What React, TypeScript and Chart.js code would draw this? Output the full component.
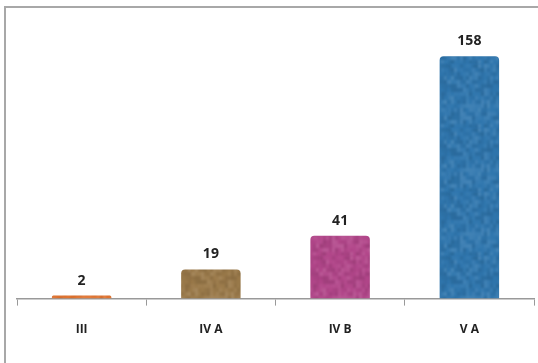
import React, { useEffect, useRef } from "react";
import { Chart, registerables } from "chart.js";

Chart.register(...registerables);

const categories = ["III", "IV A", "IV B", "V A"];
const values = [2, 19, 41, 158];
const barColors = ["#e0722e", "#9b7a4a", "#b2468a", "#2f76ae"];

// Small deterministic hash used to give the bars a hand-coloured, crayon-like grain.
function grain(x: number, y: number): number {
  const s = Math.sin(x * 12.9898 + y * 78.233) * 43758.5453;
  return s - Math.floor(s);
}

function makeTexture(ctx: CanvasRenderingContext2D, color: string): CanvasPattern | string {
  const size = 64;
  const raw = document.createElement("canvas");
  raw.width = size;
  raw.height = size;
  const r = raw.getContext("2d");
  if (!r) return color;
  r.fillStyle = color;
  r.fillRect(0, 0, size, size);
  for (let x = 0; x < size; x += 3) {
    for (let y = 0; y < size; y += 4) {
      const n = grain(x, y) - 0.5;
      r.fillStyle = n > 0 ? `rgba(255,255,255,${n * 0.22})` : `rgba(0,0,0,${-n * 0.22})`;
      r.fillRect(x, y, 3, 4);
    }
  }
  // soften the blocks into a mottled, pencil-like surface
  const off = document.createElement("canvas");
  off.width = size;
  off.height = size;
  const o = off.getContext("2d");
  if (!o) return color;
  o.fillStyle = color;
  o.fillRect(0, 0, size, size);
  o.filter = "blur(1.2px)";
  for (let dx = -1; dx <= 1; dx++) {
    for (let dy = -1; dy <= 1; dy++) {
      o.drawImage(raw, dx * size, dy * size);
    }
  }
  o.filter = "none";
  return ctx.createPattern(off, "repeat") || color;
}

const valueLabels = {
  id: "valueLabels",
  afterDatasetsDraw(chart: any) {
    const { ctx } = chart;
    const meta = chart.getDatasetMeta(0);
    ctx.save();
    ctx.font = "bold 14px 'Open Sans', sans-serif";
    ctx.fillStyle = "#222222";
    ctx.textAlign = "center";
    ctx.textBaseline = "bottom";
    meta.data.forEach((bar: any, i: number) => {
      ctx.fillText(String(values[i]), bar.x, bar.y - 8);
    });
    ctx.restore();
  },
};

export default function App() {
  const canvasRef = useRef<HTMLCanvasElement | null>(null);

  useEffect(() => {
    const canvas = canvasRef.current;
    if (!canvas) return;
    const ctx = canvas.getContext("2d");
    if (!ctx) return;
    const fills = barColors.map((c) => makeTexture(ctx, c));

    const chart = new Chart(canvas, {
      type: "bar",
      data: {
        labels: categories,
        datasets: [
          {
            data: values,
            backgroundColor: fills as any,
            borderWidth: 0,
            borderRadius: { topLeft: 4, topRight: 4, bottomLeft: 0, bottomRight: 0 },
            borderSkipped: "bottom",
            barPercentage: 0.5,
            categoryPercentage: 0.92,
          },
        ],
      },
      options: {
        animation: false,
        responsive: false,
        maintainAspectRatio: false,
        layout: { padding: { left: 17, right: 4, top: 22.5, bottom: 9 } },
        plugins: {
          legend: { display: false },
          tooltip: { enabled: false },
        },
        scales: {
          x: {
            offset: true,
            grid: {
              offset: true,
              drawOnChartArea: false,
              drawTicks: true,
              tickLength: 7,
              color: "#999999",
              lineWidth: 1,
            },
            border: { display: true, color: "#999999", width: 1.5 },
            ticks: {
              padding: 17,
              color: "#222222",
              font: { family: "'Open Sans', sans-serif", size: 12, weight: "bold" },
            },
          },
          y: {
            display: false,
            min: 0,
            max: 180,
          },
        },
      },
      plugins: [valueLabels],
    });

    return () => chart.destroy();
  }, []);

  return (
    <div style={{ position: "fixed", left: 0, top: 0, width: 538, height: 363, background: "#ffffff", overflow: "hidden" }}>
      <div
        style={{
          position: "absolute",
          left: 4,
          top: 6,
          width: 560,
          height: 380,
          borderLeft: "2px solid #a8a8a8",
          borderTop: "2px solid #a8a8a8",
          boxSizing: "border-box",
        }}
      />
      <canvas
        ref={canvasRef}
        width={538}
        height={363}
        style={{ position: "absolute", left: 0, top: 0, width: 538, height: 363 }}
      />
    </div>
  );
}
